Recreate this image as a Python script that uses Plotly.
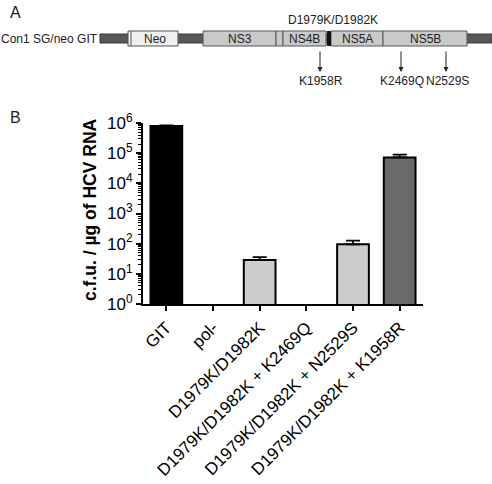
import plotly.graph_objects as go

# ---------------- Panel B data ----------------
categories = ["GIT", "pol-", "D1979K/D1982K", "D1979K/D1982K + K2469Q",
              "D1979K/D1982K + N2529S", "D1979K/D1982K + K1958R"]
cfu_values = [800000, None, 29, None, 95, 72000]
cfu_error = [40000, 0, 7, 0, 32, 18000]
bar_colors = ["#000000", "#ffffff", "#cccccc", "#ffffff", "#cccccc", "#6a6a6a"]
ytick_vals = [1, 10, 100, 1000, 10000, 100000, 1000000]
ytick_text = ["10<sup>0</sup>", "10<sup>1</sup>", "10<sup>2</sup>", "10<sup>3</sup>",
              "10<sup>4</sup>", "10<sup>5</sup>", "10<sup>6</sup>"]

# ---------------- Panel A (schematic) data ----------------
construct_label = "Con1 SG/neo GIT"
backbone_span = [100, 492]
segment_names = ["Neo", "NS3", "", "NS4B", "NS5A", "NS5B"]
segment_start = [128, 203, 276, 283, 331, 383]
segment_end = [178, 276, 283, 326, 383, 467]
segment_fill = ["#efefef", "#c9c9c9", "#c9c9c9", "#c9c9c9", "#c9c9c9", "#c9c9c9"]
mutation_site_pos = 329
mutation_site_label = "D1979K/D1982K"
adaptive_pos = [320, 401, 446]
adaptive_labels = ["K1958R", "K2469Q", "N2529S"]

FONT = "Liberation Sans, Arial, sans-serif"

fig = go.Figure()

fig.add_trace(go.Bar(
    x=categories, y=cfu_values, width=0.68,
    marker=dict(color=bar_colors, line=dict(color="black", width=2)),
    error_y=dict(type="data", symmetric=False, array=cfu_error,
                 arrayminus=[0] * len(cfu_error), color="black",
                 thickness=1.8, width=7),
    showlegend=False, hoverinfo="skip",
))

# invisible trace to activate the schematic axes
fig.add_trace(go.Scatter(x=[0], y=[0], xaxis="x2", yaxis="y2", mode="markers",
                         marker=dict(opacity=0), showlegend=False, hoverinfo="skip"))

shapes = []
# backbone
shapes.append(dict(type="rect", xref="x2", yref="y2", x0=backbone_span[0], x1=backbone_span[1],
                   y0=34, y1=43, fillcolor="#585858", line=dict(color="#3a3a3a", width=1)))
for name, s, e, c in zip(segment_names, segment_start, segment_end, segment_fill):
    shapes.append(dict(type="rect", xref="x2", yref="y2", x0=s, x1=e, y0=31, y1=46,
                       fillcolor=c, line=dict(color="#555555", width=1)))
# small divider inside Neo box
shapes.append(dict(type="line", xref="x2", yref="y2", x0=segment_start[0] + 3,
                   x1=segment_start[0] + 3, y0=31, y1=46, line=dict(color="#555555", width=1)))
# thick black mutation mark
shapes.append(dict(type="rect", xref="x2", yref="y2", x0=mutation_site_pos - 2,
                   x1=mutation_site_pos + 2, y0=31, y1=46, fillcolor="#111111",
                   line=dict(width=0)))

annotations = []
annotations.append(dict(xref="paper", yref="paper", x=8 / 492, y=1 - 12 / 484, text="A",
                        showarrow=False, xanchor="left", yanchor="middle",
                        font=dict(family=FONT, size=16, color="#222")))
annotations.append(dict(xref="paper", yref="paper", x=8 / 492, y=1 - 118 / 484, text="B",
                        showarrow=False, xanchor="left", yanchor="middle",
                        font=dict(family=FONT, size=16, color="#222")))
annotations.append(dict(xref="x2", yref="y2", x=backbone_span[0], y=39, text=construct_label,
                        showarrow=False, xanchor="right", yanchor="middle",
                        font=dict(family=FONT, size=12, color="#222")))
for name, s, e in zip(segment_names, segment_start, segment_end):
    if name:
        annotations.append(dict(xref="x2", yref="y2", x=(s + e) / 2 + (2 if name == "Neo" else 0),
                                y=39, text=name, showarrow=False,
                                font=dict(family=FONT, size=12, color="#222")))
annotations.append(dict(xref="x2", yref="y2", x=mutation_site_pos + 4, y=20,
                        text=mutation_site_label, showarrow=False,
                        font=dict(family=FONT, size=12, color="#222")))
for pos, lab in zip(adaptive_pos, adaptive_labels):
    annotations.append(dict(xref="x2", yref="y2", x=pos, y=72, ax=pos, ay=50,
                            axref="x2", ayref="y2", text="", showarrow=True,
                            arrowhead=2, arrowsize=1, arrowwidth=1, arrowcolor="#222"))
    annotations.append(dict(xref="x2", yref="y2", x=pos + 1, y=81, text=lab, showarrow=False,
                            font=dict(family=FONT, size=12, color="#222")))
# y-axis title
annotations.append(dict(xref="paper", yref="paper", x=90 / 492, y=1 - 210 / 484,
                        text="<b>c.f.u. / µg of HCV RNA</b>", textangle=-90, showarrow=False,
                        xanchor="center", yanchor="middle",
                        font=dict(family=FONT, size=17.5, color="black")))

minor_vals = [m * 10 ** k for k in range(0, 6) for m in range(2, 10)]

fig.update_layout(
    width=492, height=484,
    margin=dict(l=0, r=0, t=0, b=0),
    paper_bgcolor="white", plot_bgcolor="rgba(0,0,0,0)",
    shapes=shapes, annotations=annotations,
    xaxis=dict(domain=[143 / 492, 423 / 492], range=[-0.5, 5.5], anchor="y",
               showline=True, linecolor="black", linewidth=2, automargin=False,
               ticks="outside", ticklen=5, tickwidth=1.5, tickcolor="black",
               tickangle=-45, showgrid=False, zeroline=False,
               tickfont=dict(family=FONT, size=17, color="black")),
    yaxis=dict(domain=[1 - 304 / 484, 1 - 123 / 484], type="log", range=[0, 6], anchor="x",
               showline=True, linecolor="black", linewidth=2, automargin=False,
               ticks="outside", ticklen=5, tickwidth=1.5, tickcolor="black",
               tickvals=ytick_vals, ticktext=ytick_text, showgrid=False, zeroline=False,
               tickfont=dict(family=FONT, size=17, color="black"),
               minor=dict(tickvals=minor_vals, ticks="outside", ticklen=3,
                          tickwidth=1, tickcolor="black", showgrid=False)),
    xaxis2=dict(domain=[0, 1], range=[0, 492], anchor="y2", visible=False, fixedrange=True),
    yaxis2=dict(domain=[0, 1], range=[484, 0], anchor="x2", visible=False, fixedrange=True),
)

fig.write_html("out.html")
